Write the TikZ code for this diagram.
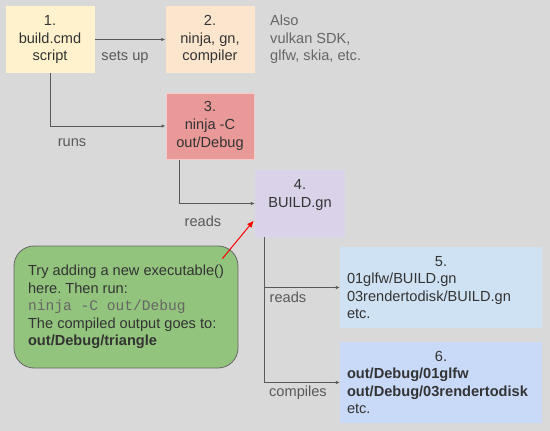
\documentclass[tikz,border=0pt]{standalone}
\usepackage{fontspec}
\setmainfont{Liberation Sans}
\setmonofont{Liberation Mono}
\usetikzlibrary{arrows.meta,calc}
\frenchspacing

\definecolor{bggray}{HTML}{D9D9D9}
\definecolor{boxtext}{HTML}{333333}
\definecolor{labeltext}{HTML}{595959}
\definecolor{linegray}{HTML}{595959}
\definecolor{yellowfill}{HTML}{FFF2CC}
\definecolor{orangefill}{HTML}{FCE5CD}
\definecolor{redfill}{HTML}{EA9999}
\definecolor{reddraw}{HTML}{F4CCCC}
\definecolor{purplefill}{HTML}{D9D2E9}
\definecolor{bluefill}{HTML}{CFE2F3}
\definecolor{cornfill}{HTML}{C9DAF8}
\definecolor{greenfill}{HTML}{93C47D}
\definecolor{greendraw}{HTML}{666666}
\definecolor{monogray}{HTML}{666666}

\tikzset{
  stepbox/.style={align=center,text=boxtext,inner sep=0pt,
    font=\fontsize{14.6}{17.6}\selectfont},
  edgelabel/.style={text=labeltext,inner sep=0pt,
    font=\fontsize{14.6}{17.6}\selectfont},
  link/.style={->,draw=linegray,line width=0.8pt}
}

\begin{document}
\begin{tikzpicture}[
                x=1pt,y=-1pt,
                >={Latex[length=4pt,width=3.5pt]}]

                    \fill[bggray] (0,0) rectangle (550,431);
                    \useasboundingbox (0,0) rectangle (550,431);

                    % top row
                    \node[stepbox,fill=yellowfill,minimum width=89pt,minimum height=67pt] (Step1) at (50,39.5) {1.\\build.cmd\\script}; % 1
                    \node[stepbox,fill=orangefill,minimum width=89pt,minimum height=67pt] (Step2) at (210,39.5) {2.\\ninja, gn,\\compiler}; % 2
                    \node[edgelabel,align=left,text=monogray,anchor=west] (Extras) at (270,39.5) {Also\\vulkan SDK,\\glfw, skia, etc.};

                    % ninja
                    \node[stepbox,fill=redfill,draw=reddraw,line width=1pt,minimum width=88pt,minimum height=66pt] (Step3) at (210,126) {3.\\ninja -C\\out/Debug}; % 3

                    % BUILD.gn
                    \node[stepbox,fill=purplefill,minimum width=90pt,minimum height=67pt,text depth=20pt] (Step4) at (300,203.5) {4.\\BUILD.gn}; % 4

                    % outputs
                    \node[stepbox,fill=bluefill,minimum width=202pt,minimum height=81pt,text width=188pt,align=left] (Step5) at (441,287.5)
                      {\makebox[\linewidth]{5.}\\01glfw/BUILD.gn\\03rendertodisk/BUILD.gn\\etc.}; % 5
                    \node[stepbox,fill=cornfill,minimum width=202pt,minimum height=81pt,text width=188pt,align=left] (Step6) at (441,382.5)
                      {\makebox[\linewidth]{6.}\\\textbf{out/Debug/01glfw}\\\textbf{out/Debug/03rendertodisk}\\etc.}; % 6

                    % note
                    \node[stepbox,fill=greenfill,draw=greendraw,line width=0.8pt,rounded corners=20pt,align=left,
                      minimum width=224pt,minimum height=122pt] (Tip) at (126,307)
                      {Try adding a new executable()\\here. Then run:\\{\color{monogray}\ttfamily ninja -C out/Debug}\\The compiled output goes to:\\\textbf{out/Debug/triangle}};


                    \draw[link] (Step1) -- (Step2);
                    \draw[link] (Step1.south) |- (Step3.west);
                    \draw[link] ([xshift=14pt]Step3.south west) |- (Step4.west);
                    \draw[link] ([xshift=10pt]Step4.south west) |- (Step5.west);
                    \draw[link] ([xshift=10pt]Step4.south west) |- (Step6.west);

                    \draw[->,draw=red,line width=1pt,>={Latex[length=7pt,width=6pt]}] ($(Tip.north east)+(-16,13)$) to ([xshift=-1pt,yshift=-17pt]Step4.west);

                    \node[edgelabel] (SetsUp) at (125,57) {sets up};
                    \node[edgelabel] (Runs) at (72,143) {runs};
                    \node[edgelabel] (Reads1) at (203,221) {reads};
                    \node[edgelabel] (Reads2) at (288,297) {reads};
                    \node[edgelabel] (Compiles) at (298,393) {compiles};

                    \end{tikzpicture}
\end{document}
